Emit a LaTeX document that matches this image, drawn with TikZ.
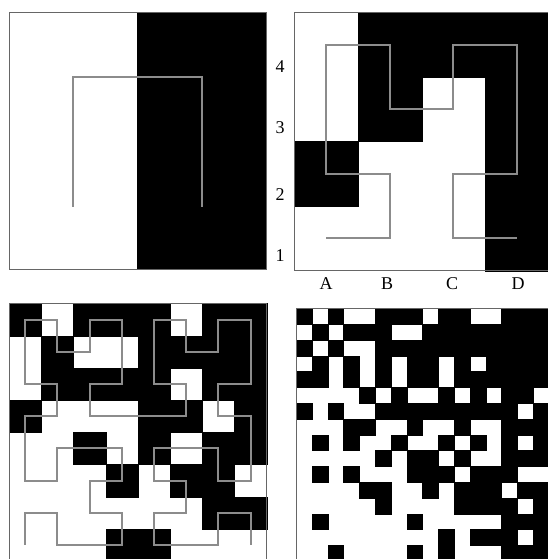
\documentclass[tikz,border=0pt]{standalone}
\usepackage{fontspec}
\setmainfont{Liberation Serif}
\begin{document}
\begin{tikzpicture}[x=1pt,y=-1pt,
  curve/.style={draw=black!45, line width=2pt, line join=miter, line cap=butt},
  frame/.style={draw=black!60, line width=1pt},
  px/.style={fill=black, draw=black, line width=0.2pt},
  lbl/.style={font=\fontsize{18}{18}\selectfont, inner sep=0pt}]
\useasboundingbox (0,0) rectangle (547,559);
\fill[white] (0,0) rectangle (547,559);

% ---------- Panel 1 (2x2) ----------
\fill[black] (137,12.7) rectangle (266.7,269);
\draw[frame] (9,12.7) rectangle (266.7,269);
\coordinate (pa) at (73.4,206.5);
\coordinate (pb) at (73.4,77.5);
\coordinate (pc) at (202,77.5);
\coordinate (pd) at (202,206.5);
\draw[curve] (pa) -- (pb) -- (pc) -- (pd);

% ---------- Panel 2 (4x4) ----------
\begin{scope}[shift={(294.7,270.7)}, x=63.5pt, y=64.6pt]
  \foreach \c/\r in {1/3,2/3,3/3,1/2,3/2,0/1,3/1,3/0}
    \path[px] (\c,\r) rectangle ++(1,1);
  \draw[frame] (0,0) rectangle (4,4);
  \draw[curve] plot[shift={(0.5,0.5)}] coordinates {(0,0) (1,0) (1,1) (0,1) (0,2) (0,3) (1,3) (1,2) (2,2) (2,3) (3,3) (3,2) (3,1) (2,1) (2,0) (3,0)};
\end{scope}
\node[lbl] (r4) at (280,67) {4};
\node[lbl] (r3) at (280,128) {3};
\node[lbl] (r2) at (280,195) {2};
\node[lbl] (r1) at (280,256) {1};
\node[lbl] (cA) at (326,284) {A};
\node[lbl] (cB) at (387,284) {B};
\node[lbl] (cC) at (452,284) {C};
\node[lbl] (cD) at (518,284) {D};

% ---------- Panel 3 (8x8) ----------
\begin{scope}[shift={(9,561)}, x=32.2pt, y=32.2pt]
  \foreach \r/\cl in {7/{0,2,3,4,6,7}, 6/{1,4,5,6,7}, 5/{1,2,3,4,6,7}, 4/{0,4,5,7},
                      3/{2,4,6,7}, 2/{3,5,6}, 1/{6,7}, 0/{3,4}}
    \foreach \c in \cl
      \path[px] (\c,\r) rectangle ++(1,1);
  \draw[frame] (0,0) rectangle (8,8);
  \draw[curve] plot[shift={(0.5,0.5)}] coordinates {
    (0,0) (0,1) (1,1) (1,0) (2,0) (3,0) (3,1) (2,1) (2,2) (3,2) (3,3) (2,3) (1,3) (1,2) (0,2) (0,3)
    (0,4) (1,4) (1,5) (0,5) (0,6) (0,7) (1,7) (1,6) (2,6) (2,7) (3,7) (3,6) (3,5) (2,5) (2,4) (3,4)
    (4,4) (5,4) (5,5) (4,5) (4,6) (4,7) (5,7) (5,6) (6,6) (6,7) (7,7) (7,6) (7,5) (6,5) (6,4) (7,4)
    (7,3) (7,2) (6,2) (6,3) (5,3) (4,3) (4,2) (5,2) (5,1) (4,1) (4,0) (5,0) (6,0) (6,1) (7,1) (7,0)};
\end{scope}

% ---------- Panel 4 (16x16) ----------
\begin{scope}[shift={(296,561)}, x=15.8pt, y=15.8pt]
  \foreach \r/\cl in {
     0/{0,2,5,6,7,9,10,13,14,15},
     1/{1,3,4,5,8,9,10,11,12,13,14,15},
     2/{0,2,5,6,7,8,9,10,11,12,13,14,15},
     3/{1,3,5,7,8,10,12,13,14,15},
     4/{0,1,3,5,7,8,10,11,12,13,14,15},
     5/{4,6,9,11,13,14},
     6/{0,2,5,6,7,8,9,10,11,12,13,15},
     7/{3,4,7,10,13,14,15},
     8/{1,3,6,9,11,13,15},
     9/{5,7,8,10,13,14,15},
     10/{1,3,7,8,9,11,12,13},
     11/{4,5,8,10,11,12,14,15},
     12/{5,10,11,12,13,15},
     13/{1,7,13,14,15},
     14/{9,11,12,13,15},
     15/{2,7,9,13,14,15}}
    \foreach \c in \cl
      \path[px] (\c,15-\r) rectangle ++(1,1);
  \draw[frame] (0,0) rectangle (16,16);
\end{scope}
\end{tikzpicture}
\end{document}
